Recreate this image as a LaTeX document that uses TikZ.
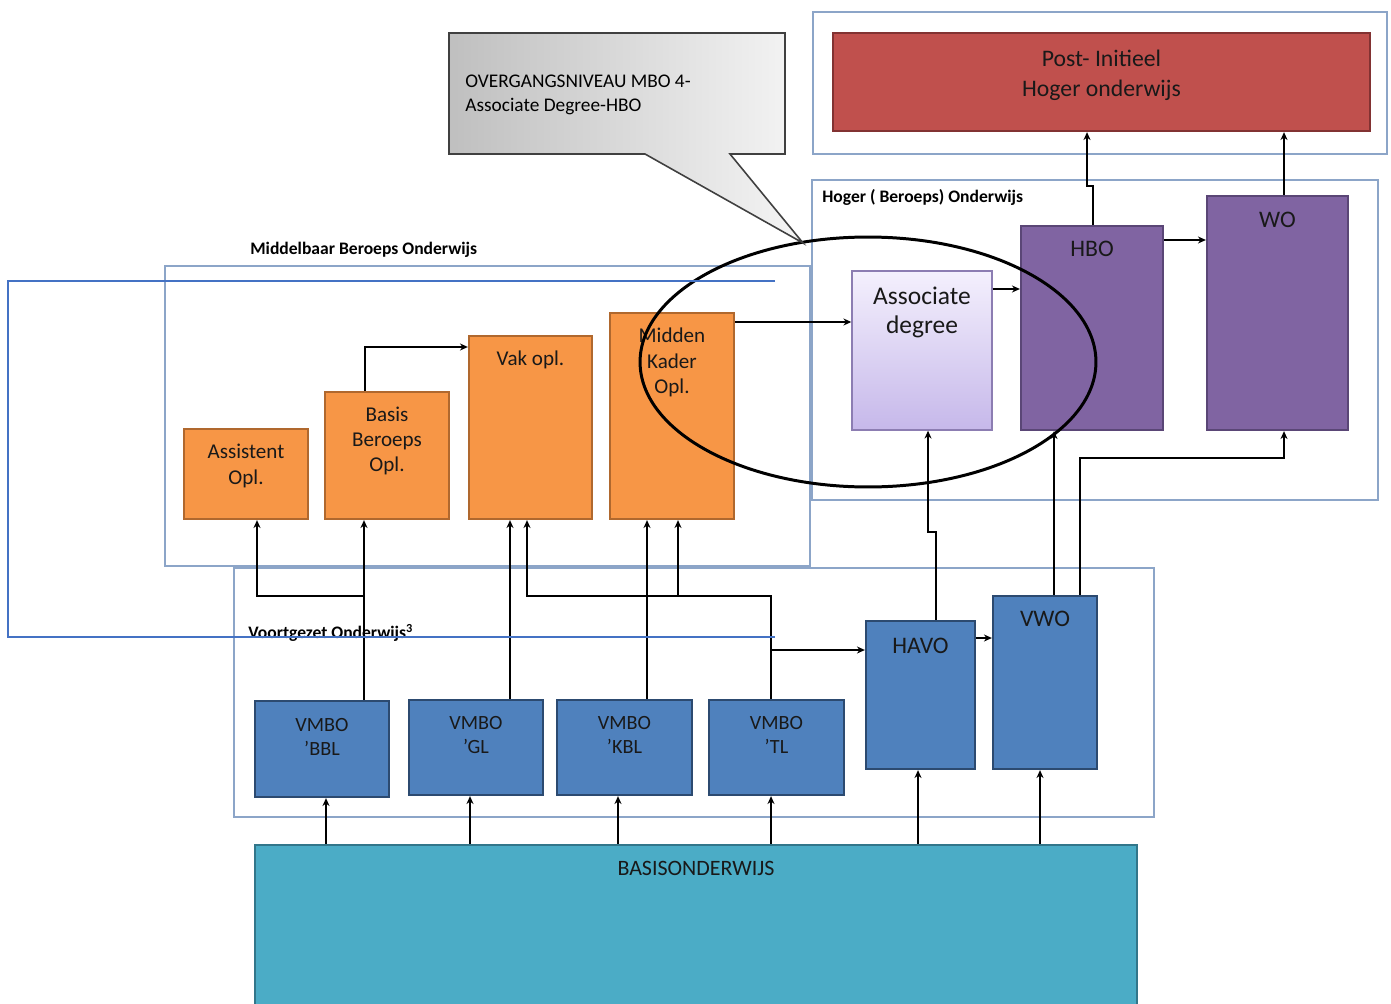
\documentclass[tikz,border=0pt]{standalone}
\usepackage{fontspec}
\setmainfont{Carlito}
\usetikzlibrary{fit,arrows.meta}

\definecolor{orfill}{RGB}{247,150,70}
\definecolor{ordraw}{RGB}{176,104,46}
\definecolor{blfill}{RGB}{79,129,189}
\definecolor{bldraw}{RGB}{44,74,112}
\definecolor{pufill}{RGB}{128,100,162}
\definecolor{pudraw}{RGB}{90,70,118}
\definecolor{redfill}{RGB}{192,80,77}
\definecolor{reddraw}{RGB}{130,50,50}
\definecolor{tlfill}{RGB}{75,172,198}
\definecolor{tldraw}{RGB}{50,118,138}
\definecolor{framec}{RGB}{140,165,200}
\definecolor{strayc}{RGB}{68,114,196}
\definecolor{adtop}{RGB}{244,240,253}
\definecolor{adbot}{RGB}{198,184,234}
\definecolor{adraw}{RGB}{140,125,178}

\begin{document}
\begin{tikzpicture}[x=0.02cm, y=-0.02cm,
  box/.style={inner sep=0pt, line width=1.3pt},
  orbox/.style={box, draw=ordraw, fill=orfill},
  blbox/.style={box, draw=bldraw, fill=blfill},
  pubox/.style={box, draw=pudraw, fill=pufill},
  frame/.style={draw=framec, line width=0.6pt, inner sep=0pt},
  ftxt/.style={inner sep=0pt, font=\fontsize{10}{12}\selectfont\bfseries},
  txt/.style={anchor=north, inner sep=0pt, align=center, text=black!90},
  arr/.style={-{Stealth[length=4.5pt,width=4pt]}, line width=0.7pt}]
\useasboundingbox (0,0) rectangle (1391,1003);

% frames
\node[frame, fit={(813,12) (1387,154)}] (fpost) {};
\node[frame, fit={(812,180) (1378,500)}] (fhbo) {};
\node[frame, fit={(165,266) (810,566)}] (fmbo) {};
\node[frame, fit={(234,568) (1154,817)}] (fvo) {};
\node[ftxt, anchor=west] (tmbo) at (250,250) {Middelbaar Beroeps Onderwijs};
\node[ftxt, anchor=west] (thbo) at (822,197) {Hoger ( Beroeps) Onderwijs};
\node[ftxt, anchor=west] (tvo) at (248,633) {Voortgezet Onderwijs\textsuperscript{3}};

% hoger onderwijs
\node[box, draw=reddraw, fill=redfill, fit={(833,33) (1370,131)},
  label={[txt, font=\fontsize{13.5}{17}\selectfont, yshift=-0.36cm]north:{Post- Initieel\\Hoger onderwijs}}] (post) {};
\node[box, line width=0.8pt, draw=adraw, top color=adtop, bottom color=adbot, fit={(852,271) (992,430)},
  label={[txt, font=\fontsize{14.5}{16.5}\selectfont, yshift=-0.32cm]north:{Associate\\degree}}] (assoc) {};
\node[pubox, fit={(1021,226) (1163,430)},
  label={[txt, font=\fontsize{13.5}{16}\selectfont, yshift=-0.32cm]north:HBO}] (hbo) {};
\node[pubox, fit={(1207,196) (1348,430)},
  label={[txt, font=\fontsize{13.5}{16}\selectfont, yshift=-0.34cm]north:WO}] (wo) {};

% mbo
\node[orbox, fit={(184,429) (308,519)},
  label={[txt, font=\fontsize{12}{14.5}\selectfont, yshift=-0.32cm]north:{Assistent\\Opl.}}] (assist) {};
\node[orbox, fit={(325,392) (449,519)},
  label={[txt, font=\fontsize{12}{14.2}\selectfont, yshift=-0.32cm]north:{Basis\\Beroeps\\Opl.}}] (bbo) {};
\node[orbox, fit={(469,336) (592,519)},
  label={[txt, font=\fontsize{12}{14.2}\selectfont, yshift=-0.32cm]north:{Vak opl.}}] (vak) {};
\node[orbox, fit={(610,313) (734,519)},
  label={[txt, font=\fontsize{12}{14.5}\selectfont, yshift=-0.32cm]north:{Midden\\Kader\\Opl.}}] (mkader) {};

% voortgezet onderwijs
\node[blbox, fit={(255,701) (389,797)},
  label={[txt, font=\fontsize{11.5}{13.6}\selectfont, yshift=-0.36cm]north:{VMBO\\'BBL}}] (vbbl) {};
\node[blbox, fit={(409,700) (543,795)},
  label={[txt, font=\fontsize{11.5}{13.6}\selectfont, yshift=-0.34cm]north:{VMBO\\'GL}}] (vgl) {};
\node[blbox, fit={(557,700) (692,795)},
  label={[txt, font=\fontsize{11.5}{13.6}\selectfont, yshift=-0.34cm]north:{VMBO\\'KBL}}] (vkbl) {};
\node[blbox, fit={(709,700) (844,795)},
  label={[txt, font=\fontsize{11.5}{13.6}\selectfont, yshift=-0.34cm]north:{VMBO\\'TL}}] (vtl) {};
\node[blbox, fit={(866,621) (975,769)},
  label={[txt, font=\fontsize{13.5}{16}\selectfont, yshift=-0.36cm]north:HAVO}] (havo) {};
\node[blbox, fit={(993,596) (1097,769)},
  label={[txt, font=\fontsize{13.5}{16}\selectfont, yshift=-0.32cm]north:VWO}] (vwo) {};

% basis
\node[box, draw=tldraw, fill=tlfill, fit={(255,845) (1137,1012)},
  label={[txt, font=\fontsize{12.5}{15}\selectfont, yshift=-0.34cm]north:BASISONDERWIJS}] (basis) {};

% connectors
\foreach \n/\x in {vbbl/326, vgl/470, vkbl/618, vtl/771, havo/918, vwo/1040}
  \draw[arr] (\x,0 |- basis.north) -- (\x,0 |- \n.south);

\coordinate (jbbl) at (364,596);
\coordinate (jtl) at (771,596);
\coordinate (jmk) at (678,596);
\draw[arr] (364,0 |- vbbl.north) -- (364,0 |- bbo.south);
\draw[arr] (jbbl) -- (257,596) -- (257,0 |- assist.south);
\draw[arr] (365,0 |- bbo.north) -- (365,347) -- (365,347 -| vak.west);
\draw[arr] (510,0 |- vgl.north) -- (510,0 |- vak.south);
\draw[arr] (647,0 |- vkbl.north) -- (647,0 |- mkader.south);
\draw[arr] (771,0 |- vtl.north) -- (jtl) -- (527,596) -- (527,0 |- vak.south);
\draw[arr] (jmk) -- (678,0 |- mkader.south);
\draw[arr] (771,650) -- (771,650 -| havo.west);
\draw[arr] (734,322 -| mkader.east) -- (734,322 -| assoc.west);
\draw[arr] (936,0 |- havo.north) -- (936,532) -- (928,532) -- (928,0 |- assoc.south);
\draw[arr] (975,638 -| havo.east) -- (975,638 -| vwo.west);
\draw[arr] (1054,0 |- vwo.north) -- (1054,0 |- hbo.south);
\draw[arr] (1080,0 |- vwo.north) -- (1080,458) -- (1284,458) -- (1284,0 |- wo.south);
\draw[arr] (992,289 -| assoc.east) -- (992,289 -| hbo.west);
\draw[arr] (1093,0 |- hbo.north) -- (1093,186) -- (1087,186) -- (1087,0 |- post.south);
\draw[arr] (1163,240 -| hbo.east) -- (1163,240 -| wo.west);
\draw[arr] (1284,0 |- wo.north) -- (1284,0 |- post.south);

% overgang
\draw[line width=1.7pt] (868,362) ellipse [x radius=4.56cm, y radius=2.5cm];
\draw[draw=black!75, line width=0.9pt, left color=black!25, right color=black!4]
  (449,33) -- (785,33) -- (785,154) -- (730,154) -- (803,243) -- (645,154) -- (449,154) -- cycle;
\node[inner sep=0pt, anchor=north west, align=left, font=\fontsize{11}{13.6}\selectfont] (callt)
  at (465,75) {OVERGANGSNIVEAU MBO 4-\\Associate Degree-HBO};

% losse lijn
\draw[strayc, line width=0.9pt] (775,281) -- (8,281) -- (8,637) -- (775,637);
\end{tikzpicture}
\end{document}
